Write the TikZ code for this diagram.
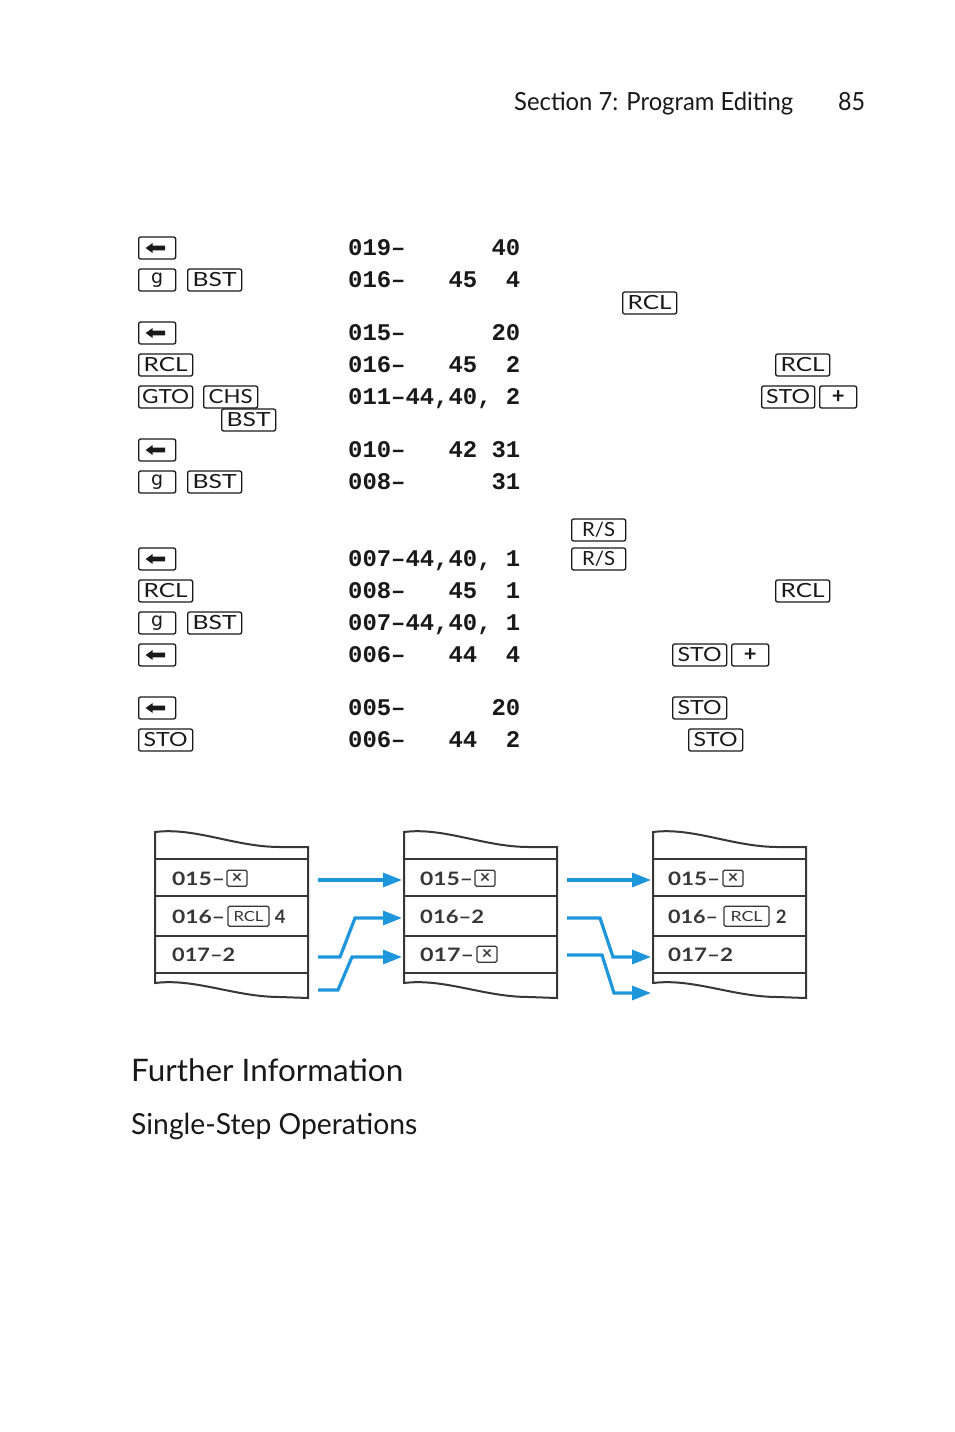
\documentclass[tikz,border=0pt]{standalone}
\usepackage{fontspec}
\setmainfont{Lato}
\setmonofont{Liberation Mono}
\newfontfamily\gfont{DejaVu Sans}
\usepackage{graphicx}
\usetikzlibrary{arrows.meta}
\definecolor{ink}{RGB}{25,25,25}
\definecolor{tapeink}{RGB}{55,55,55}
\definecolor{hpblue}{RGB}{30,150,220}
\newcommand\fitw[2]{\resizebox{#1pt}{\height}{#2}}
\newcommand\backarrow[1]{\fill[ink] ([xshift=-11.5pt]#1.center) -- ++(7pt,5pt) -- ++(0pt,-2.6pt) -- ++(12.5pt,0pt) -- ++(0pt,-4.8pt) -- ++(-12.5pt,0pt) -- ++(0pt,-2.6pt) -- cycle;}
\newcommand\tapepanel[1]{%
  \begin{scope}[shift={(#1,830)}]
    \draw[tapeline] (0,2) .. controls (40,-3) and (80,17) .. (125,17) -- (153,17) -- (153,168) -- (125,167) .. controls (80,167) and (40,148) .. (0,153) -- cycle;
    \foreach \yy in {29,66,106,143} \draw[tapeline] (0,\yy) -- (153,\yy);
  \end{scope}}
\tikzset{
  key/.style={draw=ink, line width=1.3pt, rounded corners=2pt, inner sep=0pt, minimum height=22pt, minimum width=54pt, anchor=west, text=ink, font=\fontsize{19.5}{20}\selectfont},
  narrowkey/.style={key, minimum width=37pt},
  gkey/.style={narrowkey, font=\gfont\fontsize{19}{19}\selectfont},
  pluskey/.style={narrowkey, font=\bfseries\fontsize{22}{22}\selectfont},
  code/.style={anchor=base west, inner sep=0pt, text=ink, font=\ttfamily\bfseries\fontsize{23.9}{24}\selectfont},
  tapeline/.style={draw=tapeink, line width=2pt},
  tapetext/.style={anchor=base west, inner sep=0pt, text=tapeink, font=\bfseries\fontsize{18.5}{19}\selectfont},
  smallkey/.style={draw=tapeink, line width=1.2pt, rounded corners=1.5pt, inner sep=0pt, anchor=west, text=tapeink},
  xkey/.style={smallkey, minimum width=20pt, minimum height=16pt, font=\bfseries\fontsize{18}{18}\selectfont},
  rclkey/.style={smallkey, minimum height=20pt, font=\fontsize{14}{14}\selectfont},
  flow/.style={draw=hpblue, line width=3.2pt, -{Triangle[length=19pt,width=14pt]}},
  head/.style={anchor=base west, inner sep=0pt, text=ink},
}
\begin{document}
\begin{tikzpicture}[x=1pt,y=-1pt]
\useasboundingbox (0,0) rectangle (954,1432);
\fill[white] (0,0) rectangle (954,1432);

% header
\node[head, font=\fontsize{25}{25}\selectfont] (hdr) at (514,110) {\fitw{279}{Section 7: Program Editing}};
\node[head, font=\fontsize{25}{25}\selectfont] (pg) at (838,110) {\fitw{27}{85}};

% keys, left column
\node[narrowkey] (b1) at (138,248) {}; \backarrow{b1}
\node[gkey] (g1) at (138,280) {g};
\node[key] (bst1) at (187,280) {\fitw{44}{BST}};
\node[narrowkey] (b2) at (138,333) {}; \backarrow{b2}
\node[key] (rcl1) at (138,365) {\fitw{44}{RCL}};
\node[key] (gto) at (138,397) {\fitw{47}{GTO}};
\node[key] (chs) at (203,397) {\fitw{44}{CHS}};
\node[key] (bst2) at (221,420) {\fitw{44}{BST}};
\node[narrowkey] (b3) at (138,450) {}; \backarrow{b3}
\node[gkey] (g2) at (138,482) {g};
\node[key] (bst3) at (187,482) {\fitw{44}{BST}};
\node[narrowkey] (b4) at (138,559) {}; \backarrow{b4}
\node[key] (rcl2) at (138,591) {\fitw{44}{RCL}};
\node[gkey] (g3) at (138,623) {g};
\node[key] (bst4) at (187,623) {\fitw{44}{BST}};
\node[narrowkey] (b5) at (138,655) {}; \backarrow{b5}
\node[narrowkey] (b6) at (138,708) {}; \backarrow{b6}
\node[key] (sto1) at (138,740) {\fitw{44}{STO}};

% keys, right column
\node[key] (rclR1) at (622,303) {\fitw{44}{RCL}};
\node[key] (rclR2) at (775,365) {\fitw{44}{RCL}};
\node[key, minimum width=53pt] (stoR1) at (761,397) {\fitw{44}{STO}};
\node[pluskey] (plus1) at (819,397) {+};
\node[key] (rs1) at (571,530) {\fitw{33}{R/S}};
\node[key] (rs2) at (571,559) {\fitw{33}{R/S}};
\node[key] (rclR3) at (775,591) {\fitw{44}{RCL}};
\node[key] (stoR2) at (672,655) {\fitw{44}{STO}};
\node[pluskey] (plus2) at (731,655) {+};
\node[key] (stoR3) at (672,708) {\fitw{44}{STO}};
\node[key] (stoR4) at (688,740) {\fitw{44}{STO}};

% program lines
\node[code] (c1) at (348,255) {019–~~~~~~40};
\node[code] (c2) at (348,287) {016–~~~45~~4};
\node[code] (c3) at (348,340) {015–~~~~~~20};
\node[code] (c4) at (348,372) {016–~~~45~~2};
\node[code] (c5) at (348,404) {011–44,40,~2};
\node[code] (c6) at (348,457) {010–~~~42~31};
\node[code] (c7) at (348,489) {008–~~~~~~31};
\node[code] (c8) at (348,566) {007–44,40,~1};
\node[code] (c9) at (348,598) {008–~~~45~~1};
\node[code] (c10) at (348,630) {007–44,40,~1};
\node[code] (c11) at (348,662) {006–~~~44~~4};
\node[code] (c12) at (348,715) {005–~~~~~~20};
\node[code] (c13) at (348,747) {006–~~~44~~2};

% tape panels
\tapepanel{155}
\tapepanel{404}
\tapepanel{653}

% panel 1
\node[tapetext] (t1a) at (172,885) {\fitw{53}{015–}};
\node[xkey] (t1ax) at ([xshift=1pt]t1a.east) {×};
\node[tapetext] (t1b) at (172,923) {\fitw{53}{016–}};
\node[rclkey, minimum width=41pt] (t1bk) at ([xshift=2pt]t1b.east) {\fitw{30}{RCL}};
\node[tapetext, anchor=west] (t1bn) at ([xshift=5pt]t1bk.east) {4};
\node[tapetext] (t1c) at (172,961) {\fitw{63}{017–2}};

% panel 2
\node[tapetext] (t2a) at (420,885) {\fitw{53}{015–}};
\node[xkey] (t2ax) at ([xshift=1pt]t2a.east) {×};
\node[tapetext] (t2b) at (420,923) {\fitw{64}{016–2}};
\node[tapetext] (t2c) at (420,961) {\fitw{54}{017–}};
\node[xkey] (t2cx) at ([xshift=2pt]t2c.east) {×};

% panel 3
\node[tapetext] (t3a) at (668,885) {\fitw{52}{015–}};
\node[xkey] (t3ax) at ([xshift=2pt]t3a.east) {×};
\node[tapetext] (t3b) at (668,923) {\fitw{50}{016–}};
\node[rclkey, minimum width=45pt] (t3bk) at ([xshift=5pt]t3b.east) {\fitw{32}{RCL}};
\node[tapetext, anchor=west] (t3bn) at ([xshift=6pt]t3bk.east) {2};
\node[tapetext] (t3c) at (668,961) {\fitw{65}{017–2}};

% flow arrows
\coordinate (f1s) at (318,880); \coordinate (f1e) at (402,880);
\coordinate (f2s) at (318,957); \coordinate (f2e) at (402,918);
\coordinate (f3s) at (318,990); \coordinate (f3e) at (402,957);
\coordinate (g1s) at (567,880); \coordinate (g1e) at (651,880);
\coordinate (g2s) at (567,918); \coordinate (g2e) at (651,957);
\coordinate (g3s) at (567,955); \coordinate (g3e) at (651,993);
\draw[flow] (f1s) -- (f1e);
\draw[flow] (f2s) -- (340,957) -- (355,918) -- (f2e);
\draw[flow] (f3s) -- (338,990) -- (352,957) -- (f3e);
\draw[flow] (g1s) -- (g1e);
\draw[flow] (g2s) -- (600,918) -- (613,957) -- (g2e);
\draw[flow] (g3s) -- (602,955) -- (614,993) -- (g3e);

% headings
\node[head, font=\fontsize{31}{31}\selectfont] (h1) at (131,1081) {\fitw{272}{Further Information}};
\node[head, font=\fontsize{29}{29}\selectfont] (h2) at (131,1134) {\fitw{286}{Single-Step Operations}};
\end{tikzpicture}
\end{document}
